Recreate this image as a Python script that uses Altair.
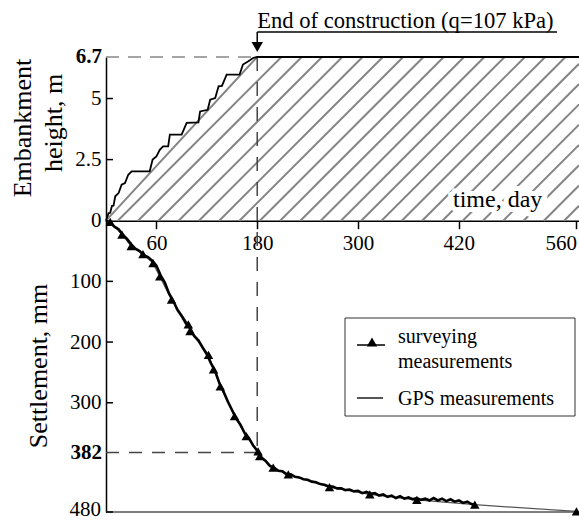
import altair as alt
import pandas as pd
import numpy as np

# ---------------- data ----------------
# embankment construction staircase (day, height m)
stage_day = [0, 3, 5, 7, 9, 11, 15, 18.6, 22.6, 26.5, 30.5, 52, 55.5, 60, 64, 68, 74, 76, 90,
             96, 110, 112, 121, 124, 130, 134, 138, 143.6, 159, 163, 169, 175, 180, 563]
stage_height = [0, 0.3, 0.32, 0.6, 0.62, 1.0, 1.13, 1.47, 1.54, 1.88, 2.02, 2.02, 2.5, 2.63, 2.9,
                3.04, 3.04, 3.52, 3.52, 4.0, 4.02, 4.47, 4.54, 4.95, 5.02, 5.5, 5.52, 5.98, 5.98,
                6.39, 6.52, 6.66, 6.7, 6.7]
# design ramp (boundary of hatched load area)
ramp_day = [0, 180, 563]
ramp_height = [0, 6.7, 6.7]

# GPS measurements (day, settlement mm)
gps_day = [0, 5, 10, 15, 20, 25, 30, 35, 40, 45, 50, 55, 60, 65, 70, 75, 80, 85, 90, 95, 100,
           105, 110, 115, 120, 125, 130, 135, 140, 145, 150, 155, 160, 165, 170, 175, 180, 185,
           190, 195, 200, 205, 210, 215, 220, 225, 230, 235, 240, 245, 250, 255, 260, 265, 270,
           275, 280, 285, 290, 295, 300, 305, 310, 315, 320, 325, 330, 335, 340, 345, 350, 355,
           360, 365, 370, 375, 380, 385, 390, 395, 400, 405, 410, 415, 420, 425, 430, 435, 438]
gps_settle = [0, 3, 10, 14, 23, 30, 39, 46, 50, 57, 60, 66, 74, 90, 102, 120, 132, 147, 157, 169,
              177, 190, 197, 209, 220, 235, 248, 268, 282, 298, 312, 326, 336, 350, 358, 370, 379,
              390, 396, 404, 407, 412, 413, 418, 418, 422, 423, 426, 427, 430, 431, 434, 435, 438,
              438, 441, 441, 444, 443, 446, 445, 449, 447, 450, 449, 453, 451, 455, 453, 457, 454,
              458, 456, 459, 457, 460, 458, 461, 457, 461, 458, 462, 459, 463, 461, 465, 463, 467,
              468]

# surveying measurements (day, settlement mm)
survey_day = [5, 19, 30, 44, 56, 64, 78, 98, 100, 122, 128, 136, 153, 167, 181, 183, 199, 217,
              266, 314, 370, 439, 560]
survey_settle = [2, 23, 42, 55, 70, 92, 130, 171, 182, 221, 245, 273, 322, 355, 380, 388, 407,
                 418, 439, 451, 460, 468, 479]

x_ticks = [60, 180, 300, 420, 560]
height_ticks = [6.7, 5, 2.5]
settle_ticks = [0, 100, 200, 300, 382, 480]
bold_height = [6.7]
bold_settle = [382]

# ---------------- layout constants ----------------
W, H = 473, 455
XMAX = 563
K = 40.25            # settlement-axis units per metre of embankment height
YMIN = -6.7 * K
YMAX = 480
FONT = "Liberation Serif"

xscale = alt.Scale(domain=[0, XMAX], nice=False, zero=False)
yscale = alt.Scale(domain=[YMIN, YMAX], reverse=True, nice=False, zero=False)

y_values = [-h * K for h in height_ticks] + settle_ticks
bold_vals = [-h * K for h in bold_height] + bold_settle
y_axis = alt.Axis(
    values=y_values,
    labelExpr="(datum.value == 382 || datum.value == 480 || datum.value < -260) ? '' : "
              "(datum.value < 0 ? format(-datum.value/40.25, '.1~f') : format(datum.value, 'd'))",
    title=None, ticks=False, grid=False, domainColor="black", domainWidth=1.5,
    labelFont=FONT, labelFontSize=21, labelColor="black", labelPadding=5,
    labelOverlap=False,
)
y0_px = H * (0 - YMIN) / (YMAX - YMIN)
x_axis = alt.Axis(
    values=x_ticks, orient="bottom", offset=-(H - y0_px), title=None, grid=False,
    domainColor="black", domainWidth=1.5, tickColor="black", tickWidth=1.5, tickSize=8,
    labelFont=FONT, labelFontSize=21, labelColor="black", labelPadding=4,
    labelFlush=5, labelOverlap=False,
)

def X(field="t"):
    return alt.X(f"{field}:Q", scale=xscale, axis=x_axis)

def Y(field="s"):
    return alt.Y(f"{field}:Q", scale=yscale, axis=y_axis)

stage_df = pd.DataFrame({"t": stage_day, "s": [-h * K for h in stage_height]})
ramp_df = pd.DataFrame({"t": ramp_day, "s": [-h * K for h in ramp_height]})
gps_df = pd.DataFrame({"t": gps_day, "s": gps_settle})
survey_df = pd.DataFrame({"t": survey_day, "s": survey_settle})

# hatching of the load area (45 degree lines in screen space)
px_x = W / XMAX
px_y = H / (YMAX - YMIN)
rows = []
for t0 in np.arange(14, XMAX, 24.15):
    t1 = min(t0 + (-YMIN) * px_y / px_x, XMAX)
    s1 = -(t1 - t0) * px_x / px_y
    rows.append({"t": float(t0), "s": 0.0, "t2": float(t1), "s2": float(s1)})
hatch_df = pd.DataFrame(rows)

one = pd.DataFrame({"a": [0]})

hatch = alt.Chart(hatch_df).mark_rule(color="#858585", strokeWidth=2).encode(
    x=X("t"), x2="t2:Q", y=Y("s"), y2="s2:Q")
ramp = alt.Chart(ramp_df).mark_line(color="#858585", strokeWidth=2).encode(x=X(), y=Y())

label_halo = alt.Chart(one).mark_text(
    align="left", baseline="alphabetic", font=FONT, fontSize=24, stroke="white",
    strokeWidth=10, fill="white").encode(
    x=alt.value(347), y=alt.value(150), text=alt.value("time, day"))
label_time = alt.Chart(one).mark_text(
    align="left", baseline="alphabetic", font=FONT, fontSize=24, color="black").encode(
    x=alt.value(347), y=alt.value(150), text=alt.value("time, day"))

ref_df = pd.DataFrame({"t0": [0.0], "t1": [180.0], "top": [YMIN], "s382": [382.0]})
dash_top = alt.Chart(ref_df).mark_rule(color="#888888", strokeWidth=1.5, strokeDash=[13, 9]).encode(
    x=X("t0"), x2="t1:Q", y=Y("top"))
dash_vert = alt.Chart(ref_df).mark_rule(color="#444444", strokeWidth=1.5, strokeDash=[14, 11]).encode(
    x=X("t1"), y=Y("top"), y2="s382:Q")
dash_382 = alt.Chart(ref_df).mark_rule(color="#444444", strokeWidth=1.5, strokeDash=[13, 10]).encode(
    x=X("t0"), x2="t1:Q", y=Y("s382"))

stage = alt.Chart(stage_df).mark_line(color="black", strokeWidth=1.8).encode(x=X(), y=Y())

survey_line = alt.Chart(survey_df).mark_line(color="#555555", strokeWidth=1.2).encode(x=X(), y=Y())
gps_line = alt.Chart(gps_df).mark_line(color="black", strokeWidth=2.6).encode(x=X(), y=Y())
survey_pts = alt.Chart(survey_df).mark_point(
    shape="triangle-up", filled=True, size=90, color="black", opacity=1).encode(x=X(), y=Y())

bottom_df = pd.DataFrame({"s": [480.0]})
bottom_line = alt.Chart(bottom_df).mark_rule(color="#555555", strokeWidth=1.5).encode(y=Y())

ytick_df = pd.DataFrame({"s": [-2.5 * K, -5 * K, 100, 200, 300, 480]})
yticks = alt.Chart(ytick_df).mark_rule(color="black", strokeWidth=1.5).encode(
    x=alt.value(0), x2=alt.value(7), y=Y())

bold_df = pd.DataFrame({"s": bold_vals,
                        "lab": [f"{v:g}" for v in bold_height] + [str(v) for v in bold_settle]})
bold_labels = alt.Chart(bold_df).mark_text(
    align="right", baseline="middle", font=FONT, fontSize=21, fontWeight="bold",
    color="black").encode(x=alt.value(-4), y=Y(), text="lab:N")

# bottom-most tick label, kept just inside the picture
last_df = pd.DataFrame({"s": [480.0], "lab": ["480"]})
last_label = alt.Chart(last_df).mark_text(
    align="right", baseline="middle", font=FONT, fontSize=21, color="black", dy=-2).encode(
    x=alt.value(-5), y=Y(), text="lab:N")

# annotation: end of construction
end_df = pd.DataFrame({"t": [180.0]})
end_text = alt.Chart(end_df).mark_text(
    align="left", baseline="alphabetic", font=FONT, fontSize=22.6, color="black").encode(
    x=X(), y=alt.value(-29), text=alt.value("End of construction (q=107 kPa)"))
end_under = alt.Chart(end_df).mark_rule(color="black", strokeWidth=1.5).encode(
    x=X(), x2=alt.value(451), y=alt.value(-25))
end_stem = alt.Chart(end_df).mark_rule(color="black", strokeWidth=1.5).encode(
    x=X(), y=alt.value(-25), y2=alt.value(-12))
end_arrow = alt.Chart(end_df).mark_point(
    shape="triangle-down", filled=True, size=130, color="black", opacity=1).encode(
    x=X(), y=alt.value(-10))

# axis titles
def vtitle(txt, x, y):
    return alt.Chart(one).mark_text(angle=270, align="center", baseline="middle", font=FONT,
                                    fontSize=26, color="black").encode(
        x=alt.value(x), y=alt.value(y), text=alt.value(txt))

# legend (drawn)
leg_box = alt.Chart(one).mark_rect(fill="white", stroke="#333333", strokeWidth=1).encode(
    x=alt.value(239), x2=alt.value(469), y=alt.value(261), y2=alt.value(359))
leg_l1 = alt.Chart(one).mark_rule(color="black", strokeWidth=1.5).encode(
    x=alt.value(251), x2=alt.value(279), y=alt.value(288))
leg_tri = alt.Chart(one).mark_point(shape="triangle-up", filled=True, size=110, color="black",
                                    opacity=1).encode(x=alt.value(266), y=alt.value(285))
leg_l2 = alt.Chart(one).mark_rule(color="#555555", strokeWidth=2).encode(
    x=alt.value(251), x2=alt.value(277), y=alt.value(341))
def leg_text(txt, y):
    return alt.Chart(one).mark_text(align="left", baseline="alphabetic", font=FONT,
                                    fontSize=20, color="black").encode(
        x=alt.value(292), y=alt.value(y), text=alt.value(txt))

chart = alt.layer(
    hatch, ramp, label_halo, label_time, dash_top, dash_vert, dash_382, bottom_line,
    survey_line, gps_line, survey_pts, stage, yticks, bold_labels, last_label,
    end_text, end_under, end_stem, end_arrow,
    vtitle("Embankment", -83, 71), vtitle("height, m", -52, 66), vtitle("Settlement, mm", -67, 309),
    leg_box, leg_l1, leg_tri, leg_l2,
    leg_text("surveying", 286), leg_text("measurements", 311), leg_text("GPS measurements", 348),
).properties(
    width=W, height=H,
    autosize=alt.AutoSizeParams(type="none"),
    padding={"left": 106, "top": 57, "right": 0, "bottom": 8},
    background="white",
).configure_view(stroke=None)

chart.save("out.html", embed_options={"renderer": "svg", "actions": False})
